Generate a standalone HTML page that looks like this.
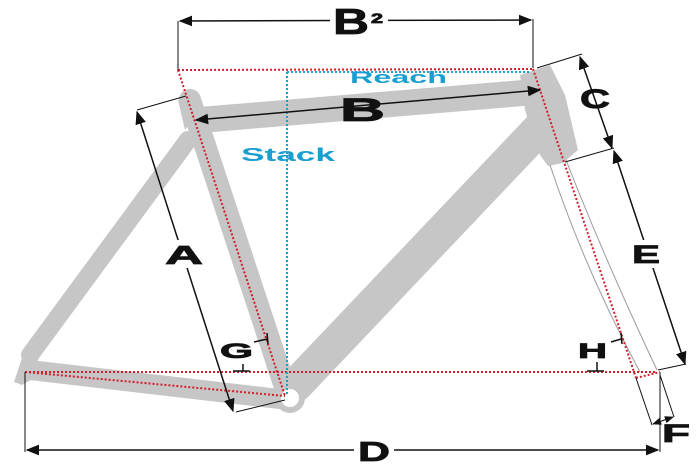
<!DOCTYPE html>
<html><head><meta charset="utf-8"><style>
html,body{margin:0;padding:0;background:#fff;}
svg{display:block;}
.l{font-family:"Liberation Sans",sans-serif;font-weight:900;fill:#111;stroke:#111;stroke-width:0.8;}
.b{font-family:"Liberation Sans",sans-serif;font-weight:bold;fill:#1a9fd0;}
</style></head><body>
<svg width="700" height="466" viewBox="0 0 700 466" xmlns="http://www.w3.org/2000/svg">
<defs>
<marker id="ar" viewBox="0 0 10 10" refX="9" refY="5" markerWidth="9" markerHeight="9" orient="auto-start-reverse"><path d="M0,1 L10,5 L0,9 z" fill="#111"/></marker>
</defs>
<!-- frame -->
<g stroke="#c6c6c6" stroke-linecap="round" fill="none">
<line x1="200" y1="120" x2="535" y2="92" stroke-width="26"/>
<line x1="540" y1="128" x2="296" y2="385" stroke-width="34"/>
<line x1="190" y1="100" x2="287" y2="393" stroke-width="22"/>
<line x1="188" y1="140" x2="30" y2="355" stroke-width="18"/>
<line x1="30" y1="370" x2="288" y2="400" stroke-width="20"/>
</g>
<polygon points="178,100 195,95 200,110 185,130" fill="#c6c6c6"/>
<polygon points="520,75 550,65 565,95 578,150 563,163 548,166 540,155 525,110" fill="#c6c6c6"/>
<path d="M22,358 L36,350 L40,375 L22,385 L14,382 Z" fill="#c6c6c6"/>
<circle cx="290" cy="398" r="15" fill="#c6c6c6"/>
<circle cx="290" cy="398" r="9" fill="#fff"/>
<!-- fork -->
<path d="M550,165 Q585,270 640,372" stroke="#999" stroke-width="1" fill="none"/>
<path d="M566,160 Q605,260 657,370" stroke="#999" stroke-width="1" fill="none"/>
<!-- red dotted -->
<g stroke="#d0202a" stroke-width="2" stroke-dasharray="2,2" fill="none">
<line x1="178" y1="70" x2="533" y2="69"/>
<line x1="178" y1="70" x2="285" y2="396"/>
<line x1="533" y1="69" x2="636" y2="378"/>
<line x1="25" y1="372" x2="657" y2="372"/>
<line x1="25" y1="372" x2="285" y2="396"/>
<line x1="636" y1="378" x2="660" y2="372"/>
</g>
<!-- blue dotted -->
<g stroke="#1a9fd0" stroke-width="2" stroke-dasharray="2,2" fill="none">
<line x1="287" y1="72" x2="530" y2="72"/>
<line x1="287" y1="72" x2="287" y2="395"/>
</g>
<!-- dimension lines -->
<g stroke="#111" stroke-width="1.5" fill="none">
<line x1="178" y1="21" x2="178" y2="70" stroke-width="1"/>
<line x1="533" y1="19" x2="533" y2="68" stroke-width="1"/>
<line x1="180" y1="21" x2="531" y2="20" marker-start="url(#ar)" marker-end="url(#ar)"/>
<line x1="196" y1="120" x2="540" y2="90" marker-start="url(#ar)" marker-end="url(#ar)"/>
<line x1="137" y1="112" x2="233" y2="411" marker-start="url(#ar)" marker-end="url(#ar)"/>
<line x1="137" y1="110" x2="186" y2="96" stroke-width="1"/>
<line x1="236" y1="412" x2="285" y2="400" stroke-width="1"/>
<line x1="580" y1="57" x2="612" y2="148" marker-start="url(#ar)" marker-end="url(#ar)"/>
<line x1="537" y1="68" x2="582" y2="54" stroke-width="1"/>
<line x1="565" y1="162" x2="614" y2="148" stroke-width="1"/>
<line x1="614" y1="151" x2="685" y2="364" marker-start="url(#ar)" marker-end="url(#ar)"/>
<line x1="658" y1="370" x2="686" y2="364" stroke-width="1"/>
<line x1="25" y1="372" x2="25" y2="452" stroke-width="1"/>
<line x1="660" y1="372" x2="660" y2="452" stroke-width="1"/>
<line x1="27" y1="450" x2="658" y2="450" marker-start="url(#ar)" marker-end="url(#ar)"/>
<line x1="636" y1="378" x2="652" y2="425" stroke-width="1"/>
<line x1="660" y1="375" x2="674" y2="417" stroke-width="1"/>
<line x1="653" y1="424" x2="673" y2="417" marker-start="url(#ar)" marker-end="url(#ar)" stroke-width="1"/>
<line x1="254" y1="342" x2="267" y2="339"/>
<line x1="267" y1="333" x2="268" y2="344"/>
<line x1="233" y1="371" x2="250" y2="371"/>
<line x1="243" y1="364" x2="243" y2="371"/>
<line x1="611" y1="342" x2="621" y2="339"/>
<line x1="621" y1="333" x2="622" y2="344"/>
<line x1="587" y1="371" x2="604" y2="371"/>
<line x1="597" y1="362" x2="597" y2="371"/>
</g>
<!-- labels -->
<rect x="330" y="6" width="58" height="30" fill="#fff"/>
<text x="333" y="34" class="l" font-size="36" textLength="36" lengthAdjust="spacingAndGlyphs">B</text>
<text x="371" y="23" class="l" font-size="14" textLength="12" lengthAdjust="spacingAndGlyphs">2</text>
<rect x="338" y="96" width="50" height="26" fill="#c6c6c6" opacity="0"/>
<text x="340" y="121" class="l" font-size="32" textLength="45" lengthAdjust="spacingAndGlyphs">B</text>
<text x="350" y="83" class="b" font-size="17" textLength="97" lengthAdjust="spacingAndGlyphs">Reach</text>
<text x="241" y="161" class="b" font-size="18" textLength="94" lengthAdjust="spacingAndGlyphs">Stack</text>
<rect x="162" y="240" width="44" height="28" fill="#fff"/>
<text x="165" y="264" class="l" font-size="26" textLength="38" lengthAdjust="spacingAndGlyphs">A</text>
<text x="580" y="108" class="l" font-size="27" textLength="30" lengthAdjust="spacingAndGlyphs">C</text>
<rect x="630" y="240" width="34" height="28" fill="#fff"/>
<text x="632" y="263" class="l" font-size="25" textLength="28" lengthAdjust="spacingAndGlyphs">E</text>
<rect x="354" y="437" width="40" height="26" fill="#fff"/>
<text x="358" y="461" class="l" font-size="28" textLength="32" lengthAdjust="spacingAndGlyphs">D</text>
<text x="662" y="442" class="l" font-size="25" textLength="28" lengthAdjust="spacingAndGlyphs">F</text>
<text x="220" y="358" class="l" font-size="21" textLength="33" lengthAdjust="spacingAndGlyphs">G</text>
<text x="578" y="358" class="l" font-size="21" textLength="29" lengthAdjust="spacingAndGlyphs">H</text>
</svg>
</body></html>
